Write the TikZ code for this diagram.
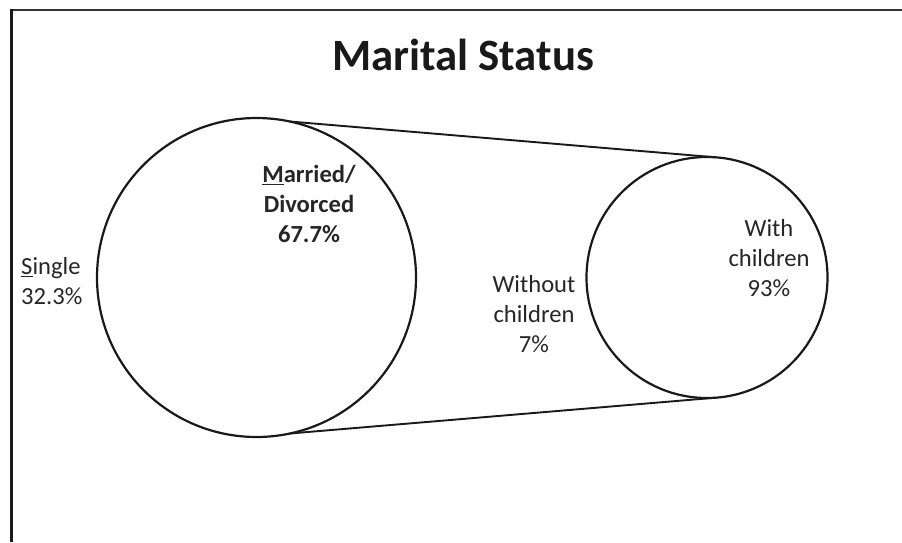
\documentclass[tikz,border=0pt]{standalone}
\usepackage{fontspec}
\setmainfont{Carlito}
\begin{document}
\begin{tikzpicture}[x=1pt,y=-1pt,
  ring/.style={circle,draw=black!90,line width=2.2pt,inner sep=0pt,outer sep=0pt},
  label/.style={inner sep=0pt,align=center,text=black!85,
    font=\fontsize{24.6}{29.8}\selectfont},
  link/.style={draw=black!90,line width=1.9pt}]
  \useasboundingbox (0,0) rectangle (902,542);
  % frame
  \draw[line width=2pt,black!80] (902,10) -- (10,10);
  \draw[line width=3pt,black!90] (11,9) -- (11,542);
  % title
  \node[inner sep=0pt,anchor=base,text=black!90,
        font=\fontsize{44.8}{52}\selectfont\bfseries] (title) at (463,70) {Marital Status};
  % circles
  \node[ring,minimum size=319pt] (big) at (256.5,277.5) {};
  \node[ring,minimum size=241pt] (small) at (707,277.5) {};
  % joining lines
  \draw[link] (big.78) -- (small.86);
  \draw[link] (big.-78) -- (small.-86);
  % labels
  \node[label,font=\fontsize{24.6}{29.8}\selectfont\bfseries] (married) at (309,204)
    {\underline{M}arried/\\Divorced\\67.7\%};
  \node[label,anchor=west,align=left] (single) at (21,281) {\underline{S}ingle\\32.3\%};
  \node[label] (without) at (534,314) {Without\\children\\7\%};
  \node[label] (with) at (769,258) {With\\children\\93\%};
\end{tikzpicture}
\end{document}
